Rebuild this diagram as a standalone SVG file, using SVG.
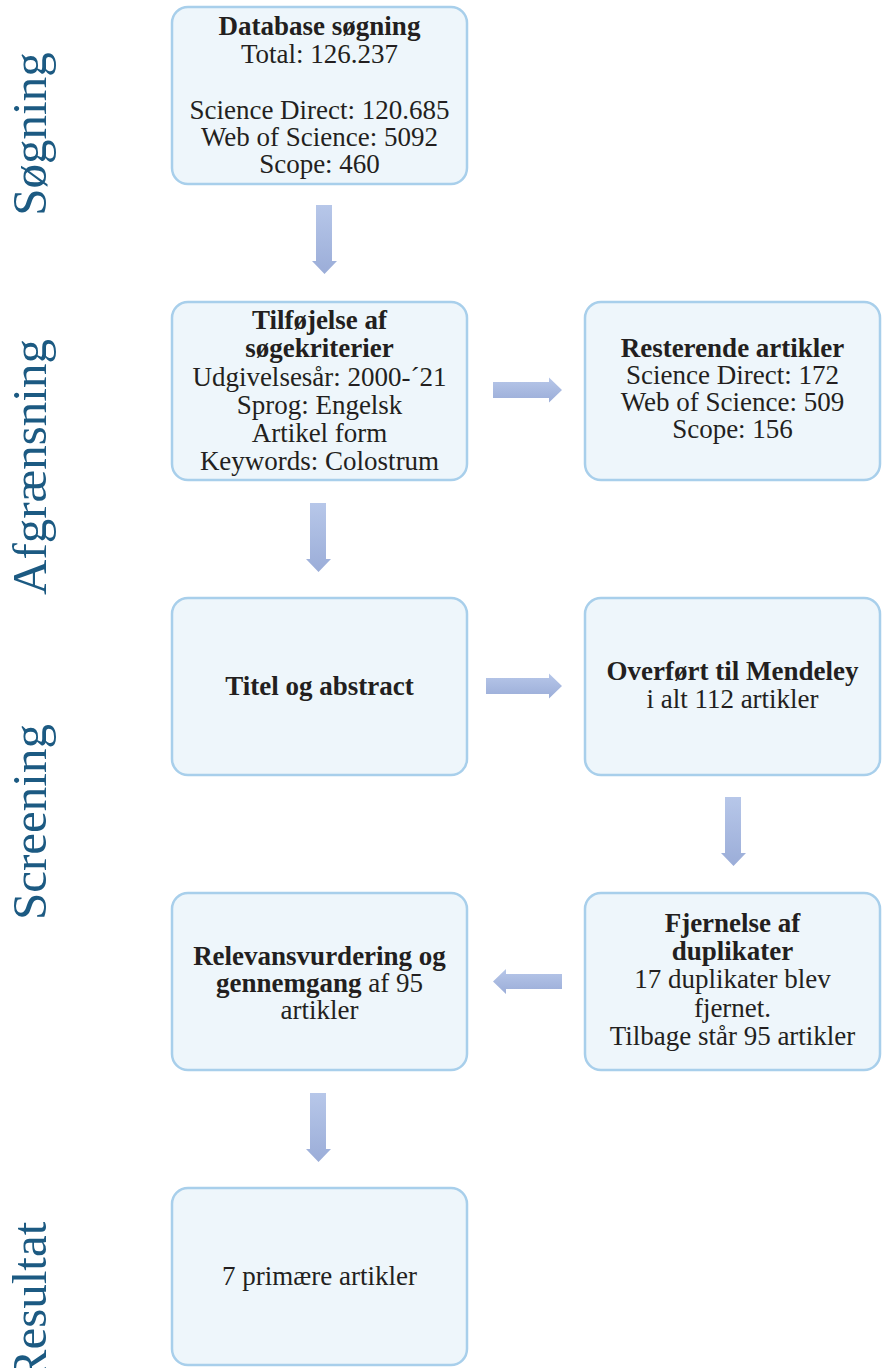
<svg xmlns="http://www.w3.org/2000/svg" width="883" height="1368" viewBox="0 0 883 1368">
<defs>
<linearGradient id="ag" x1="0" y1="0" x2="0" y2="1">
<stop offset="0" stop-color="#b7c7e9"/>
<stop offset="1" stop-color="#9badd8"/>
</linearGradient>
<style>
.box{fill:#eef6fb;stroke:#a8cfeb;stroke-width:2.5}
.t{font-family:"Liberation Serif","Times New Roman",serif;font-size:27px;fill:#231f20;text-anchor:middle}
.b{font-weight:bold}
.side{font-family:"Liberation Serif","Times New Roman",serif;font-size:49px;fill:#1c5a82;text-anchor:middle}
.arr{fill:url(#ag)}
</style>
</defs>
<rect width="883" height="1368" fill="#ffffff"/>
<g id="side-labels">
<text class="side" transform="translate(46,134) rotate(-90)">Søgning</text>
<text class="side" transform="translate(46,467) rotate(-90)">Afgrænsning</text>
<text class="side" transform="translate(46,822) rotate(-90)">Screening</text>
<text class="side" transform="translate(46,1302) rotate(-90)">Resultat</text>
</g>
<g id="connectors">
<path class="arr" d="M316,205 H332 V261 H337 L324.5,274 L312,261 H316 Z"/>
<path class="arr" d="M493,382 H549 V377.5 L562,390 L549,402.5 V398 H493 Z"/>
<path class="arr" d="M310,503 H326 V559 H331 L318.5,572 L306,559 H310 Z"/>
<path class="arr" d="M486,678 H549 V673.5 L562,686 L549,698.5 V694 H486 Z"/>
<path class="arr" d="M725,797 H741 V853 H746 L733.5,866 L721,853 H725 Z"/>
<path class="arr" d="M562,974 H506 V969 L493,981.5 L506,994 V989 H562 Z"/>
<path class="arr" d="M310,1093 H326 V1149 H331 L318.5,1162 L306,1149 H310 Z"/>
</g>
<g id="n1">
<rect class="box" x="172" y="7" width="295" height="177" rx="16"/>
<text class="t"><tspan class="b" x="319.5" y="35">Database søgning</tspan><tspan x="319.5" y="63">Total: 126.237</tspan><tspan x="319.5" y="119">Science Direct: 120.685</tspan><tspan x="319.5" y="146">Web of Science: 5092</tspan><tspan x="319.5" y="173">Scope: 460</tspan></text>
</g>
<g id="n2">
<rect class="box" x="172" y="302" width="295" height="178" rx="16"/>
<text class="t"><tspan class="b" x="319.5" y="329">Tilføjelse af</tspan><tspan class="b" x="319.5" y="357">søgekriterier</tspan><tspan x="319.5" y="386">Udgivelsesår: 2000-´21</tspan><tspan x="319.5" y="414">Sprog: Engelsk</tspan><tspan x="319.5" y="442">Artikel form</tspan><tspan x="319.5" y="470">Keywords: Colostrum</tspan></text>
</g>
<g id="n3">
<rect class="box" x="585" y="302" width="295" height="178" rx="16"/>
<text class="t"><tspan class="b" x="732.5" y="357">Resterende artikler</tspan><tspan x="732.5" y="384">Science Direct: 172</tspan><tspan x="732.5" y="411">Web of Science: 509</tspan><tspan x="732.5" y="438">Scope: 156</tspan></text>
</g>
<g id="n4">
<rect class="box" x="172" y="598" width="295" height="177" rx="16"/>
<text class="t b" x="319.5" y="695">Titel og abstract</text>
</g>
<g id="n5">
<rect class="box" x="585" y="598" width="295" height="177" rx="16"/>
<text class="t"><tspan class="b" x="732.5" y="680">Overført til Mendeley</tspan><tspan x="732.5" y="708">i alt 112 artikler</tspan></text>
</g>
<g id="n6">
<rect class="box" x="172" y="893" width="295" height="177" rx="16"/>
<text class="t"><tspan class="b" x="319.5" y="965">Relevansvurdering og</tspan><tspan x="319.5" y="992"><tspan class="b">gennemgang</tspan> af 95</tspan><tspan x="319.5" y="1019">artikler</tspan></text>
</g>
<g id="n7">
<rect class="box" x="585" y="893" width="295" height="177" rx="16"/>
<text class="t"><tspan class="b" x="732.5" y="932">Fjernelse af</tspan><tspan class="b" x="732.5" y="960">duplikater</tspan><tspan x="732.5" y="988">17 duplikater blev</tspan><tspan x="732.5" y="1017">fjernet.</tspan><tspan x="732.5" y="1045">Tilbage står 95 artikler</tspan></text>
</g>
<g id="n8">
<rect class="box" x="172" y="1188" width="295" height="177" rx="16"/>
<text class="t" x="319.5" y="1285">7 primære artikler</text>
</g>
</svg>
